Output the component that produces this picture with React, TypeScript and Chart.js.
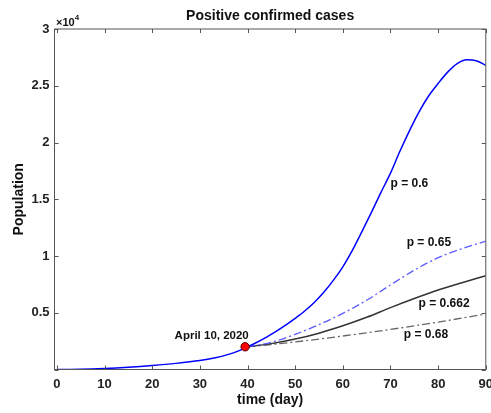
import React, { useEffect, useRef } from "react";
import { Chart, registerables } from "chart.js";

Chart.register(...registerables);

// ---- data (population) ----
const p06Days = [0, 5, 10, 15, 20, 25, 30, 33, 36, 38, 40, 42, 44, 46, 48, 50, 52, 54, 56, 58, 60, 62, 64, 66, 68, 70, 72, 74, 76, 78, 80, 82, 84, 86, 88, 90];
const p06Cases = [0, 20, 90, 200, 350, 540, 790, 1010, 1330, 1620, 2000, 2400, 2850, 3350, 3900, 4500, 5150, 5900, 6800, 7850, 9050, 10500, 12150, 13850, 15600, 17300, 19250, 21050, 22700, 24100, 25200, 26200, 26950, 27280, 27200, 26800];

const scenarioDays = [40, 45, 50, 55, 60, 65, 70, 75, 80, 85, 90];
const p065Cases = [2000, 2400, 3100, 3950, 4950, 6100, 7450, 8750, 9850, 10650, 11300];
const p0662Cases = [2000, 2280, 2680, 3200, 3850, 4600, 5450, 6250, 7000, 7650, 8260];
const p068Cases = [2000, 2200, 2430, 2680, 2950, 3230, 3530, 3850, 4180, 4530, 4900];

const markerDays = [39.5];
const markerCases = [2000];

const xTicks = [0, 10, 20, 30, 40, 50, 60, 70, 80, 90];
const yTicks = [0, 5000, 10000, 15000, 20000, 25000, 30000];

const annotationTexts = ["p = 0.6", "p = 0.65", "p = 0.662", "p = 0.68", "April 10, 2020"];
const annotationDays = [70.0, 73.4, 75.9, 72.8, 24.7];
const annotationCases = [16400, 11200, 5800, 3100, 3000];

const titleText = "Positive confirmed cases";
const xTitle = "time (day)";
const yTitle = "Population";

const FONT = "'Liberation Sans', Arial, Helvetica, sans-serif";

const toXY = (xs: number[], ys: number[]) => xs.map((x, i) => ({ x, y: ys[i] }));

const decorPlugin = {
  id: "decor",
  afterDraw(chart: any) {
    const { ctx, chartArea: a, scales } = chart;
    const xs = scales.x;
    const ys = scales.y;
    ctx.save();
    // box
    ctx.strokeStyle = "#555";
    ctx.lineWidth = 1;
    ctx.strokeRect(a.left, a.top, a.right - a.left, a.bottom - a.top);
    // inward ticks
    ctx.beginPath();
    const tl = 4;
    xTicks.forEach((v) => {
      const px = Math.round(xs.getPixelForValue(v)) + 0.5;
      ctx.moveTo(px, a.bottom);
      ctx.lineTo(px, a.bottom - tl);
      ctx.moveTo(px, a.top);
      ctx.lineTo(px, a.top + tl);
    });
    yTicks.forEach((v) => {
      const py = Math.round(ys.getPixelForValue(v)) + 0.5;
      ctx.moveTo(a.left, py);
      ctx.lineTo(a.left + tl, py);
      ctx.moveTo(a.right, py);
      ctx.lineTo(a.right - tl, py);
    });
    ctx.stroke();

    ctx.fillStyle = "#111";
    // exponent
    ctx.textAlign = "left";
    ctx.textBaseline = "alphabetic";
    ctx.font = `bold 11px ${FONT}`;
    ctx.fillText("\u00d710", a.left + 1.5, 26);
    const w = ctx.measureText("\u00d710").width;
    ctx.font = `bold 8px ${FONT}`;
    ctx.fillText("4", a.left + 1.5 + w, 20);

    // title
    ctx.textAlign = "center";
    ctx.textBaseline = "middle";
    ctx.font = `bold 14px ${FONT}`;
    ctx.fillText(titleText, (a.left + a.right) / 2, 16);
    // x title
    ctx.fillText(xTitle, (a.left + a.right) / 2, 400);
    // y title
    ctx.save();
    ctx.translate(19, (a.top + a.bottom) / 2);
    ctx.rotate(-Math.PI / 2);
    ctx.fillText(yTitle, 0, 0);
    ctx.restore();

    // annotations
    ctx.textAlign = "left";
    ctx.textBaseline = "middle";
    annotationTexts.forEach((t, i) => {
      ctx.font = `bold ${i === 4 ? 11.5 : 12}px ${FONT}`;
      ctx.fillText(t, xs.getPixelForValue(annotationDays[i]), ys.getPixelForValue(annotationCases[i]));
    });
    ctx.restore();
  },
};

export default function App() {
  const ref = useRef<HTMLCanvasElement | null>(null);

  useEffect(() => {
    if (!ref.current) return;
    const chart = new Chart(ref.current, {
      type: "line",
      data: {
        datasets: [
          {
            label: "April 10, 2020",
            data: toXY(markerDays, markerCases),
            showLine: false,
            pointRadius: 4.2,
            pointBackgroundColor: "#ff0000",
            pointBorderColor: "#550000",
            pointBorderWidth: 1,
            order: 0,
          },
          {
            label: "p = 0.6",
            data: toXY(p06Days, p06Cases),
            borderColor: "#0000ff",
            borderWidth: 1.5,
            pointRadius: 0,
            cubicInterpolationMode: "monotone",
            order: 1,
          },
          {
            label: "p = 0.65",
            data: toXY(scenarioDays, p065Cases),
            borderColor: "#5c5cff",
            borderWidth: 1.3,
            borderDash: [8, 3, 2, 3],
            pointRadius: 0,
            cubicInterpolationMode: "monotone",
            order: 1,
          },
          {
            label: "p = 0.662",
            data: toXY(scenarioDays, p0662Cases),
            borderColor: "#333333",
            borderWidth: 1.5,
            pointRadius: 0,
            cubicInterpolationMode: "monotone",
            order: 1,
          },
          {
            label: "p = 0.68",
            data: toXY(scenarioDays, p068Cases),
            borderColor: "#666666",
            borderWidth: 1.3,
            borderDash: [8, 3, 2, 3],
            pointRadius: 0,
            cubicInterpolationMode: "monotone",
            order: 1,
          },
        ],
      },
      options: {
        responsive: false,
        animation: false,
        devicePixelRatio: 1,
        layout: { padding: { top: 29, right: 4, left: 0, bottom: 0 } },
        plugins: { legend: { display: false }, tooltip: { enabled: false }, title: { display: false } },
        scales: {
          x: {
            type: "linear",
            min: -0.5,
            max: 90,
            grid: { display: false, drawTicks: false },
            border: { display: false },
            afterBuildTicks: (s: any) => {
              s.ticks = xTicks.map((v) => ({ value: v }));
            },
            afterFit: (s: any) => {
              s.height = 43.5;
              s.paddingLeft = 0;
              s.paddingRight = 0;
            },
            ticks: {
              padding: 7,
              color: "#222",
              font: { family: FONT, size: 13, weight: "bold" },
              maxRotation: 0,
              autoSkip: false,
            },
          },
          y: {
            type: "linear",
            min: 0,
            max: 30000,
            grid: { display: false, drawTicks: false },
            border: { display: false },
            afterBuildTicks: (s: any) => {
              s.ticks = yTicks.map((v) => ({ value: v }));
            },
            afterFit: (s: any) => {
              s.width = 54.5;
              s.paddingTop = 0;
              s.paddingBottom = 0;
            },
            ticks: {
              padding: 5,
              color: "#222",
              font: { family: FONT, size: 13, weight: "bold" },
              autoSkip: false,
              callback: (v: any) => (Number(v) === 0 ? "" : String(Number(v) / 10000)),
            },
          },
        },
      },
      plugins: [decorPlugin],
    } as any);
    return () => chart.destroy();
  }, []);

  return (
    <div style={{ position: "fixed", left: 0, top: 0, width: 491, height: 413, background: "#fff" }}>
      <canvas ref={ref} width={491} height={413} style={{ width: 491, height: 413, display: "block" }} />
    </div>
  );
}
